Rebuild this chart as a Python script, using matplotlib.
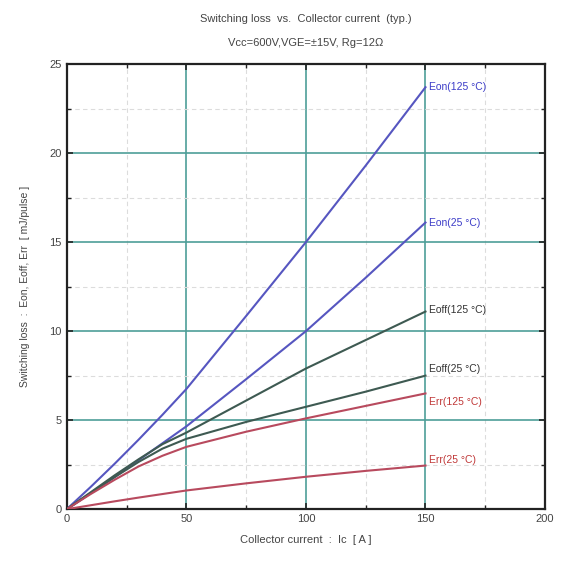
import matplotlib
matplotlib.use("Agg")
import matplotlib.pyplot as plt
import numpy as np

plt.rcParams['font.family'] = ['Liberation Sans', 'DejaVu Sans']

# collector current [A]
ic = [0, 10, 20, 30, 40, 50, 75, 100, 125, 150]

# switching loss [mJ/pulse]
eon_125 = [0, 1.25, 2.55, 3.9, 5.3, 6.75, 10.85, 15.0, 19.3, 23.7]
eon_25 = [0, 0.9, 1.8, 2.75, 3.7, 4.65, 7.3, 10.0, 13.0, 16.1]
eoff_125 = [0, 0.95, 1.9, 2.8, 3.65, 4.3, 6.1, 7.9, 9.5, 11.1]
eoff_25 = [0, 0.9, 1.8, 2.65, 3.4, 3.95, 4.9, 5.75, 6.6, 7.5]
err_125 = [0, 0.85, 1.65, 2.4, 3.0, 3.5, 4.35, 5.1, 5.8, 6.5]
err_25 = [0, 0.22, 0.44, 0.65, 0.85, 1.05, 1.45, 1.82, 2.15, 2.45]

series = [
    ("Eon(125 °C)", eon_125, '#5656c0', '#3c3cc8', 0.0),
    ("Eon(25 °C)", eon_25, '#5656c0', '#3c3cc8', 0.0),
    ("Eoff(125 °C)", eoff_125, '#3e5a52', '#333333', 0.1),
    ("Eoff(25 °C)", eoff_25, '#3e5a52', '#333333', 0.4),
    ("Err(125 °C)", err_125, '#b84a5e', '#c03838', -0.5),
    ("Err(25 °C)", err_25, '#b84a5e', '#c03838', 0.3),
]

fig = plt.figure(figsize=(5.66, 5.62), dpi=100)
ax = fig.add_axes([0.118, 0.094, 0.845, 0.792])

for name, vals, col, tcol, dy in series:
    ax.plot(ic, vals, color=col, lw=1.5, zorder=3)
    ax.text(151.5, vals[-1] + dy, name, color=tcol, fontsize=7.5,
            va='center', ha='left', zorder=4)

ax.set_xlim(0, 200)
ax.set_ylim(0, 25)
ax.set_xticks([0, 50, 100, 150, 200])
ax.set_yticks([0, 5, 10, 15, 20, 25])
ax.set_xticks([25, 75, 125, 175], minor=True)
ax.set_yticks(np.arange(2.5, 25, 5), minor=True)

ax.grid(True, which='major', color='#4e9e98', lw=1.2, zorder=1)
ax.grid(True, which='minor', color='#dcdcdc', lw=0.8, ls=(0, (4, 3)), zorder=1)

ax.tick_params(which='both', direction='in', top=True, right=True,
               labelsize=8, labelcolor='#444444', colors='#222222')
ax.tick_params(which='major', length=4, width=1.2)
ax.tick_params(which='minor', length=3, width=1.0)
for sp in ax.spines.values():
    sp.set_linewidth(1.6)
    sp.set_color('#222222')

ax.set_xlabel("Collector current  :  Ic  [ A ]", fontsize=8, color='#444444', labelpad=8)
ax.set_ylabel("Switching loss  :  Eon, Eoff, Err  [ mJ/pulse ]", fontsize=7.5,
              color='#444444', labelpad=14)

fig.text(0.54, 0.967, "Switching loss  vs.  Collector current  (typ.)",
         ha='center', va='center', fontsize=8, color='#444444')
fig.text(0.54, 0.924, "Vcc=600V,VGE=±15V, Rg=12Ω",
         ha='center', va='center', fontsize=8, color='#444444')

fig.savefig("out.png", dpi=100)
